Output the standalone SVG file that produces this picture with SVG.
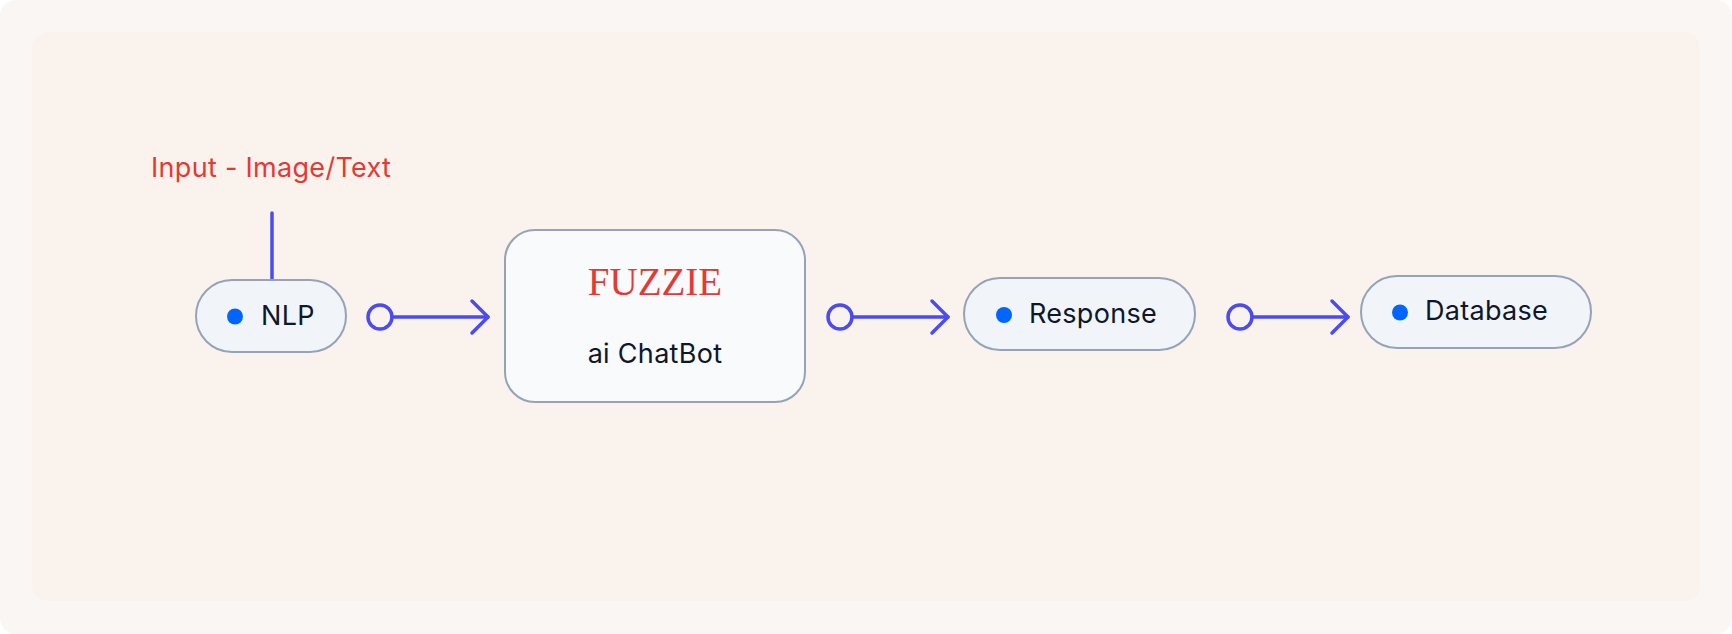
<svg xmlns="http://www.w3.org/2000/svg" width="1732" height="634" viewBox="0 0 1732 634">
  <style>
    .pill { fill: #f1f5f9; stroke: #94a3b8; stroke-width: 2; }
    .box { fill: #f8fafc; stroke: #94a3b8; stroke-width: 2; }
    .dot { fill: #0066ff; }
    .lbl { font-family: Inter, "Noto Sans", sans-serif; font-size: 27px; letter-spacing: 0.3px; fill: #0f172a; }
    .red { font-family: Inter, "Noto Sans", sans-serif; font-size: 27px; letter-spacing: 0.3px; fill: #e53935; }
    .serif { font-family: "Liberation Serif", "DejaVu Serif", serif; font-size: 39px; fill: #e53935; }
    .wire { stroke: #4b4bf2; stroke-width: 3.5; fill: none; stroke-linecap: round; stroke-linejoin: round; }
  </style>
  <rect x="0" y="0" width="1732" height="634" rx="16" fill="#f9f6f3"/>
  <rect x="32" y="32" width="1668" height="569" rx="16" fill="#faf2ed"/>

  <text class="red" x="151" y="177">Input - Image/Text</text>

  <g id="connectors">
    <line class="wire" x1="272" y1="213" x2="272" y2="279"/>
    <g id="c1">
      <circle class="wire" cx="380" cy="317" r="12"/>
      <line class="wire" x1="392" y1="317" x2="488" y2="317"/>
      <polyline class="wire" points="472,301 488,317 472,333"/>
    </g>
    <g id="c2">
      <circle class="wire" cx="840" cy="317" r="12"/>
      <line class="wire" x1="852" y1="317" x2="948" y2="317"/>
      <polyline class="wire" points="932,301 948,317 932,333"/>
    </g>
    <g id="c3">
      <circle class="wire" cx="1240" cy="317" r="12"/>
      <line class="wire" x1="1252" y1="317" x2="1348" y2="317"/>
      <polyline class="wire" points="1332,301 1348,317 1332,333"/>
    </g>
  </g>

  <g id="nlp">
    <rect class="pill" x="196" y="280" width="150" height="72" rx="36"/>
    <circle class="dot" cx="235" cy="316.5" r="8"/>
    <text class="lbl" x="261" y="325">NLP</text>
  </g>

  <g id="chatbot">
    <rect class="box" x="505" y="230" width="300" height="172" rx="30"/>
    <text class="serif" x="655" y="295" text-anchor="middle">FUZZIE</text>
    <text class="lbl" x="655" y="363" text-anchor="middle">ai ChatBot</text>
  </g>

  <g id="response">
    <rect class="pill" x="964" y="278" width="231" height="72" rx="36"/>
    <circle class="dot" cx="1004" cy="315" r="8"/>
    <text class="lbl" x="1029" y="323">Response</text>
  </g>

  <g id="database">
    <rect class="pill" x="1361" y="276" width="230" height="72" rx="36"/>
    <circle class="dot" cx="1400" cy="312.5" r="8"/>
    <text class="lbl" x="1425" y="320">Database</text>
  </g>
</svg>
